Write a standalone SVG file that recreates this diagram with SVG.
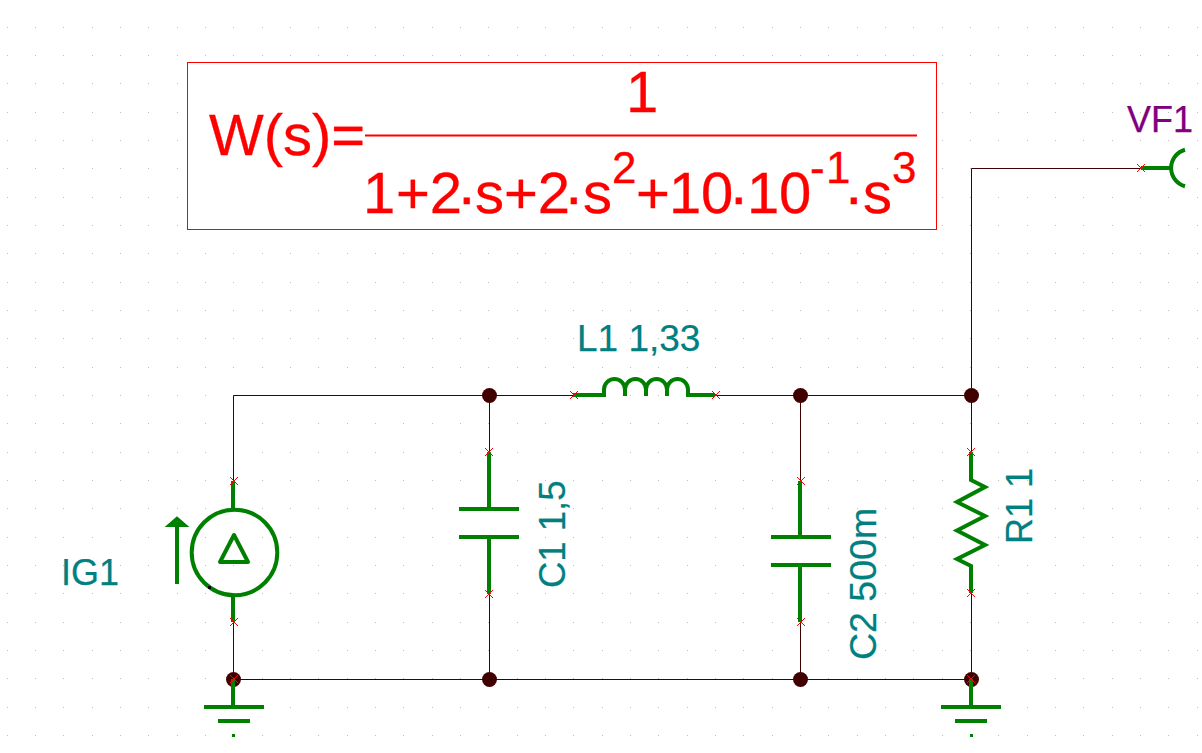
<svg xmlns="http://www.w3.org/2000/svg" width="1202" height="753" viewBox="0 0 1202 753">
<style>
text{font-family:"Liberation Sans",Arial,sans-serif}
.w{fill:none;stroke:#400000;stroke-width:1}
.c{fill:none;stroke:#008000;stroke-width:4;stroke-linejoin:miter}
.j{fill:#400000}
.x{fill:none;stroke:#ff0000;stroke-width:1;shape-rendering:crispEdges}
.t{fill:#008080;font-size:36px;stroke:#008080;stroke-width:.25}
.eq{fill:#ff0000;font-size:58px;stroke:#ff0000;stroke-width:.3}
.sup{font-size:44px}
.dot{font-size:42px;font-weight:bold}
</style>
<defs>
<pattern id="grid" x="205" y="55" width="85" height="85" patternUnits="userSpaceOnUse">
<path d="M0 .5h1M28 .5h1M57 .5h1M0 28.500h1M28 28.500h1M57 28.500h1M0 57.500h1M28 57.500h1M57 57.500h1" stroke="#c0c0c0" stroke-width="1" fill="none"/>
</pattern>
<path id="cross" class="x" d="M-4 -4L4 4M-4 4L4 -4"/>
</defs>
<rect width="1202" height="753" fill="#ffffff"/>
<rect width="1202" height="753" fill="url(#grid)"/>
<g id="transfer-function">
<rect x="187.500" y="62.500" width="749" height="167" fill="#ffffff" stroke="#ff0000" stroke-width="1"/>
<line x1="365" y1="135.500" x2="917" y2="135.500" stroke="#ff0000" stroke-width="2"/>
<text class="eq"><tspan x="209" y="155">W(s)=</tspan><tspan x="626" y="112">1</tspan><tspan x="363" y="213">1</tspan><tspan x="396" y="213">+2</tspan><tspan class="dot" x="461" y="215">·</tspan><tspan x="475" y="213">s+2</tspan><tspan class="dot" x="568" y="215">·</tspan><tspan x="583" y="213">s</tspan><tspan class="sup" x="612" y="183">2</tspan><tspan x="636" y="213">+</tspan><tspan x="669" y="213">1</tspan><tspan x="701" y="213">0</tspan><tspan class="dot" x="733" y="215">·</tspan><tspan x="747" y="213">1</tspan><tspan x="779" y="213">0</tspan><tspan class="sup" x="810" y="183">-</tspan><tspan class="sup" x="826" y="183">1</tspan><tspan class="dot" x="848" y="215">·</tspan><tspan x="863" y="213">s</tspan><tspan class="sup" x="892" y="183">3</tspan></text>
</g>
<g id="connectors">
<path class="w" d="M233.500 481.500V395.500H573.500M715.500 395.500H971.500M489.500 395.500V452.500M800.500 395.500V481.500M971.500 452.500V168.500H1141.500"/>
<path class="w" d="M233.500 622.500V679.500H971.500M489.500 594.500V679.500M800.500 622.500V679.500M971.500 593.500V679.500"/>
<circle class="j" cx="489.500" cy="395.500" r="7.500"/>
<circle class="j" cx="800.500" cy="395.500" r="7.500"/>
<circle class="j" cx="971.500" cy="395.500" r="7.500"/>
<circle class="j" cx="233.500" cy="679.500" r="7.500"/>
<circle class="j" cx="489.500" cy="679.500" r="7.500"/>
<circle class="j" cx="800.500" cy="679.500" r="7.500"/>
<circle class="j" cx="971.500" cy="679.500" r="7.500"/>
</g>
<g id="IG1">
<path class="c" d="M233 481V510M233 595V622"/>
<circle class="c" cx="234.500" cy="552.500" r="42.800"/>
<path class="c" style="stroke-linejoin:round" d="M234 535L220 562H248Z"/>
<path class="c" d="M177 584V522M170 525L177 519L184 525Z"/>
<rect x="208" y="586" width="3" height="3" fill="#000000"/>
<use href="#cross" x="234" y="481"/>
<use href="#cross" x="234" y="622"/>
<text class="t" x="61" y="585">IG1</text>
</g>
<g id="C1">
<path class="c" d="M489 452V509M459 509H519M459 537H519M489 537V594"/>
<use href="#cross" x="489" y="452"/>
<use href="#cross" x="489" y="594"/>
<text class="t" style="font-size:36.500px" transform="translate(565 588) rotate(-90)">C1 1,5</text>
</g>
<g id="L1">
<path class="c" d="M573 395H604V389.500a10.500 10.500 0 0 1 21 0v6.500v-6.500a10.500 10.500 0 0 1 21 0v6.500v-6.500a10.500 10.500 0 0 1 21 0v6.500v-6.500a10.500 10.500 0 0 1 21 0V395H715"/>
<use href="#cross" x="574" y="395"/>
<use href="#cross" x="716" y="395"/>
<text class="t" style="font-size:37px" x="577" y="351">L1 1,33</text>
</g>
<g id="C2">
<path class="c" d="M800 481V537M771 537H831M771 565H831M800 565V622"/>
<use href="#cross" x="801" y="481"/>
<use href="#cross" x="801" y="622"/>
<text class="t" style="font-size:37.500px" transform="translate(876 660) rotate(-90)">C2 500m</text>
</g>
<g id="R1">
<path class="c" d="M971 452V480L985 487L957 502L985 516L957 530.500L985 545L957 559L971 566V593"/>
<use href="#cross" x="971" y="452"/>
<use href="#cross" x="971" y="593"/>
<text class="t" transform="translate(1032 544) rotate(-90)">R1 1</text>
</g>
<g id="GND1">
<path class="c" d="M233 679V707M204 707H264M218 721H250"/>
<rect x="232" y="734" width="3" height="3" fill="#008000"/>
<use href="#cross" x="234" y="679"/>
</g>
<g id="GND2">
<path class="c" d="M971 679V707M941 707H1001M955 721H987"/>
<rect x="970" y="734" width="3" height="3" fill="#008000"/>
<use href="#cross" x="971" y="679"/>
</g>
<g id="VF1">
<path class="c" d="M1141 168H1171"/>
<path class="c" d="M1185 149.700A19 19 0 0 0 1185 186.300"/>
<use href="#cross" x="1141" y="168"/>
<text x="1127" y="132" style="fill:#800080;font-size:36px;stroke:#800080;stroke-width:.25">VF1</text>
</g>
</svg>
